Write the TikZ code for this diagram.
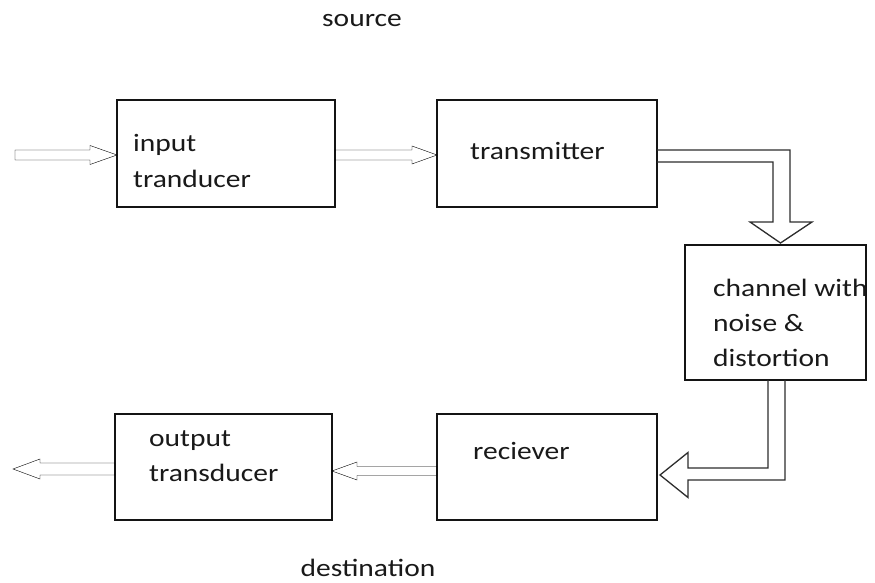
\documentclass[tikz,border=0pt]{standalone}
\usepackage{fontspec}
\setmainfont[FakeStretch=1.18]{Carlito}
\usetikzlibrary{calc}
\begin{document}
\begin{tikzpicture}[x=1pt,y=1pt]
\tikzset{
  blk/.style={draw=black!92, line width=2.4pt, inner sep=0pt, outer sep=0pt, fill=white},
  lbl/.style={anchor=base west, inner sep=0pt, text=black!90, font=\fontsize{25}{30}\selectfont},
  captext/.style={lbl, anchor=base},
  hollow/.style={draw=black!82, line width=1.3pt, line join=miter},
  % straight hollow arrow: shaft half-width / head half-width / head length
  harrow/.style args={#1/#2/#3}{hollow, to path={
    let \p1=(\tikztostart), \p2=(\tikztotarget),
        \p3=($(\tikztotarget)!#3pt!(\tikztostart)$) in
    (\x1,{\y2+#1pt}) -- (\x3,{\y2+#1pt}) -- (\x3,{\y2+#2pt})
    -- (\x2,\y2) -- (\x3,{\y2-#2pt}) -- (\x3,{\y2-#1pt})
    -- (\x1,{\y2-#1pt}) -- cycle}}
}
\fill[white] (0,0) rectangle (875,583);
\useasboundingbox (0,0) rectangle (875,583);

% blocks
\node[blk, minimum width=218pt, minimum height=107pt] (inp)  at (226,429.5) {};
\node[blk, minimum width=220pt, minimum height=107pt] (tx)   at (547,429.5) {};
\node[blk, minimum width=181pt, minimum height=135pt] (ch)   at (775.5,270.5) {};
\node[blk, minimum width=220pt, minimum height=106pt] (rx)   at (547,116) {};
\node[blk, minimum width=217pt, minimum height=106pt] (outb) at (223.5,116) {};

% free ends
\coordinate (src) at (15,428);
\coordinate (dst) at (13,114);

% block texts
\node[lbl] at (133,431) {input};
\node[lbl] at (133,395) {tranducer};
\node[lbl] at (470,423) {transmitter};
\node[lbl] at (713,286) {channel with};
\node[lbl] at (713,251) {noise \&};
\node[lbl] at (713,216) {distortion};
\node[lbl] at (473,123) {reciever};
\node[lbl] at (149,136) {output};
\node[lbl] at (149,101) {transducer};
\node[captext] at (362,556) {source};
\node[captext] at (368,6) {destination};

% straight hollow arrows
\draw (src) to[harrow=5/9.5/27] ($(inp.west)+(0,-1.5)$);
\draw (inp.east) to[harrow=5/9/25] ($(tx.west)+(0,-1.5)$);
\draw (rx.west) to[harrow=4.5/9/25] ($(outb.east)+(0,-4)$);
\draw (outb.west) to[harrow=6/10/27] (dst);

% bent hollow arrow: transmitter -> channel
\draw[hollow] let \p1=(tx.north east), \p2=(ch.north) in
  (\x1,{\y1-50pt}) -- ({\x2+14.5pt},{\y1-50pt}) -- ({\x2+14.5pt},{\y2+23pt})
  -- ({\x2+36.5pt},{\y2+23pt}) -- ({\x2+5pt},{\y2+2pt}) -- ({\x2-25.5pt},{\y2+23pt})
  -- ({\x2-2.5pt},{\y2+23pt}) -- ({\x2-2.5pt},{\y1-62pt}) -- (\x1,{\y1-62pt});

% bent hollow arrow: channel -> receiver
\draw[hollow] let \p1=(ch.south), \p2=(rx.east) in
  ({\x1-7.5pt},\y1) -- ({\x1-7.5pt},{\y2-1pt}) -- ({\x2+31pt},{\y2-1pt})
  -- ({\x2+31pt},{\y2+14.5pt}) -- ({\x2+3pt},{\y2-8pt}) -- ({\x2+31pt},{\y2-30.5pt})
  -- ({\x2+31pt},{\y2-13pt}) -- ({\x1+9.5pt},{\y2-13pt}) -- ({\x1+9.5pt},\y1);
\end{tikzpicture}
\end{document}
